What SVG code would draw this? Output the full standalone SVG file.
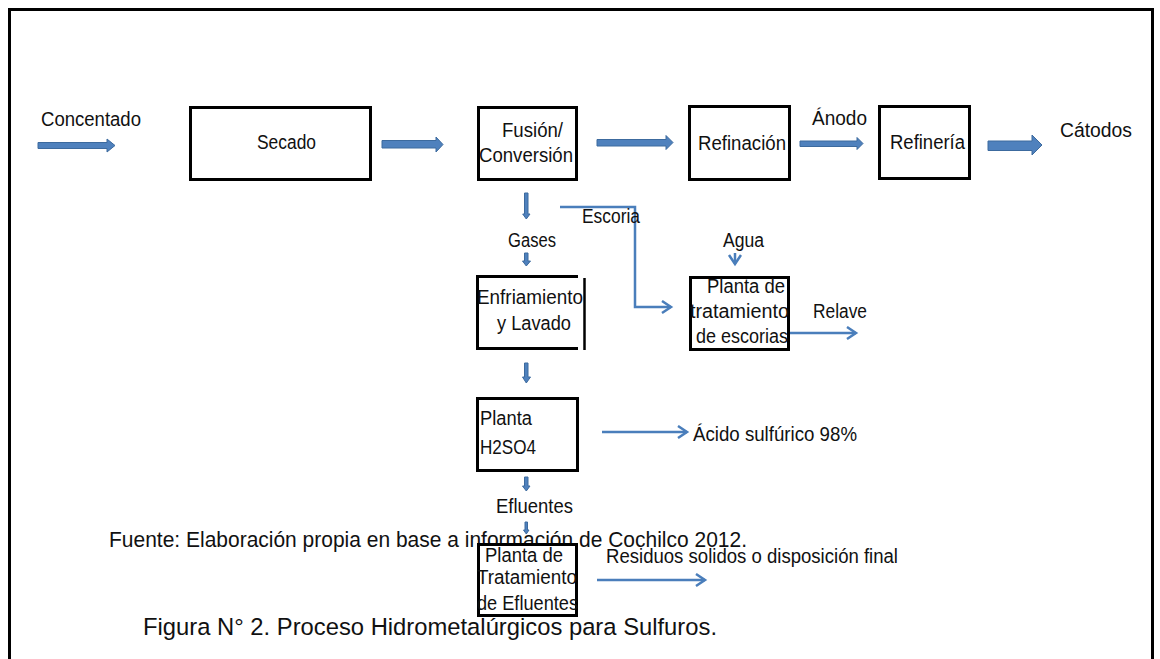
<svg xmlns="http://www.w3.org/2000/svg" width="1160" height="659" viewBox="0 0 1160 659">
<style>
text{font-family:"Liberation Sans",Arial,sans-serif;font-size:19.5px;fill:#111}
.box{fill:#fff;stroke:#000;stroke-width:3}
.blk{fill:#4F81BD;stroke:#3C6A9E;stroke-width:1}
.ln{fill:none;stroke:#4A7EBB;stroke-width:2.5;marker-end:url(#chev)}
.src{font-size:21.5px}
.cap{font-size:24.5px}
</style>
<defs>
<marker id="chev" markerUnits="userSpaceOnUse" markerWidth="14" markerHeight="16" refX="11" refY="7" orient="auto">
<path d="M2,1 L11,7 L2,13" fill="none" stroke="#4A7EBB" stroke-width="2.5"/>
</marker>
</defs>
<rect width="1160" height="659" fill="#fff"/>
<path d="M9.5,659 V9.5 H1152.5 V659" fill="none" stroke="#000" stroke-width="3"/>

<text class="src" x="109" y="547" textLength="638" lengthAdjust="spacingAndGlyphs">Fuente: Elaboración propia en base a información de Cochilco 2012.</text>

<g id="connectors">
<polygon class="blk" points="38,142.5 107,142.5 107,139 115,145.5 107,152 107,148.5 38,148.5"/>
<polygon class="blk" points="382,140.5 436,140.5 436,137 443,144.5 436,152 436,148 382,148"/>
<polygon class="blk" points="597,139.5 666,139.5 666,135.5 673,142.5 666,149.5 666,146 597,146"/>
<polygon class="blk" points="800,141 857,141 857,137.5 863,143.5 857,149.5 857,146.5 800,146.5"/>
<polygon class="blk" points="988,141 1032,141 1032,135 1042,145 1032,155 1032,150.5 988,150.5"/>
<polygon class="blk" points="524.5,193 528,193 528,214 530,214 526.3,219 522.7,214 524.5,214"/>
<polygon class="blk" points="524.5,253 528,253 528,261 530.5,261 526.3,266 522.5,261 524.5,261"/>
<polygon class="blk" points="524.5,363 528,363 528,377 530.5,377 526.3,383 522.5,377 524.5,377"/>
<polygon class="blk" points="524.5,477 528,477 528,486 530,486 526.3,491 522.5,486 524.5,486"/>
<polygon class="blk" points="525,522 527.5,522 527.5,530 529,530 526.3,534 523.5,530 525,530"/>
<path class="ln" d="M560,207 H635 V307 H671"/>
<path class="ln" d="M735,253 V264"/>
<path class="ln" d="M790,333 H856"/>
<path class="ln" d="M602,432 H687"/>
<path class="ln" d="M597,580 H705"/>
</g>

<g id="secado"><rect class="box" x="190.5" y="107.5" width="180" height="72"/><text x="257" y="149" textLength="59" lengthAdjust="spacingAndGlyphs">Secado</text></g>
<g id="fusion"><rect class="box" x="478.5" y="107.5" width="98" height="72"/><text x="502" y="137" textLength="61" lengthAdjust="spacingAndGlyphs">Fusión/</text><text x="479" y="162" textLength="94" lengthAdjust="spacingAndGlyphs">Conversión</text></g>
<g id="refinacion"><rect class="box" x="689.5" y="106.5" width="100" height="73"/><text x="698" y="150" textLength="88" lengthAdjust="spacingAndGlyphs">Refinación</text></g>
<g id="refineria"><rect class="box" x="879.5" y="106.5" width="90" height="72"/><text x="890" y="149" textLength="75" lengthAdjust="spacingAndGlyphs">Refinería</text></g>
<g id="enfriamiento"><path d="M578,276.5 H477.5 V348.5 H578" fill="#fff" stroke="#000" stroke-width="3"/><path d="M584.5,278 V350" stroke="#000" stroke-width="2.5"/><text x="477" y="304" textLength="106" lengthAdjust="spacingAndGlyphs">Enfriamiento</text><text x="497" y="330" textLength="74" lengthAdjust="spacingAndGlyphs">y Lavado</text></g>
<g id="escorias"><rect class="box" x="690.5" y="277.5" width="98" height="72"/><text x="707" y="293" textLength="78" lengthAdjust="spacingAndGlyphs">Planta de</text><text x="690" y="318" textLength="99" lengthAdjust="spacingAndGlyphs">tratamiento</text><text x="696" y="343" textLength="92" lengthAdjust="spacingAndGlyphs">de escorias</text></g>
<g id="h2so4"><rect class="box" x="477.5" y="398.5" width="100" height="72"/><text x="480" y="425" textLength="52" lengthAdjust="spacingAndGlyphs">Planta</text><text x="480" y="454" textLength="56" lengthAdjust="spacingAndGlyphs">H2SO4</text></g>
<g id="efluentes"><rect class="box" x="478.5" y="544.5" width="98" height="71"/><text x="485" y="562" textLength="78" lengthAdjust="spacingAndGlyphs">Planta de</text><text x="477" y="584" textLength="100" lengthAdjust="spacingAndGlyphs">Tratamiento</text><text x="477" y="610" textLength="101" lengthAdjust="spacingAndGlyphs">de Efluentes</text></g>

<g id="labels">
<text x="41" y="126" textLength="100" lengthAdjust="spacingAndGlyphs">Concentado</text>
<text x="812" y="125" textLength="55" lengthAdjust="spacingAndGlyphs">Ánodo</text>
<text x="1060" y="137" textLength="72" lengthAdjust="spacingAndGlyphs">Cátodos</text>
<text x="582" y="223" textLength="58" lengthAdjust="spacingAndGlyphs">Escoria</text>
<text x="508" y="247" textLength="48" lengthAdjust="spacingAndGlyphs">Gases</text>
<text x="723" y="247" textLength="41" lengthAdjust="spacingAndGlyphs">Agua</text>
<text x="813" y="318" textLength="54" lengthAdjust="spacingAndGlyphs">Relave</text>
<text x="693" y="441" textLength="164" lengthAdjust="spacingAndGlyphs">Ácido sulfúrico 98%</text>
<text x="496" y="513" textLength="77" lengthAdjust="spacingAndGlyphs">Efluentes</text>
<text x="606" y="563" textLength="292" lengthAdjust="spacingAndGlyphs">Residuos solidos o disposición final</text>
<text class="cap" x="143" y="635" textLength="574" lengthAdjust="spacingAndGlyphs">Figura N° 2. Proceso Hidrometalúrgicos para Sulfuros.</text>
</g>
</svg>
